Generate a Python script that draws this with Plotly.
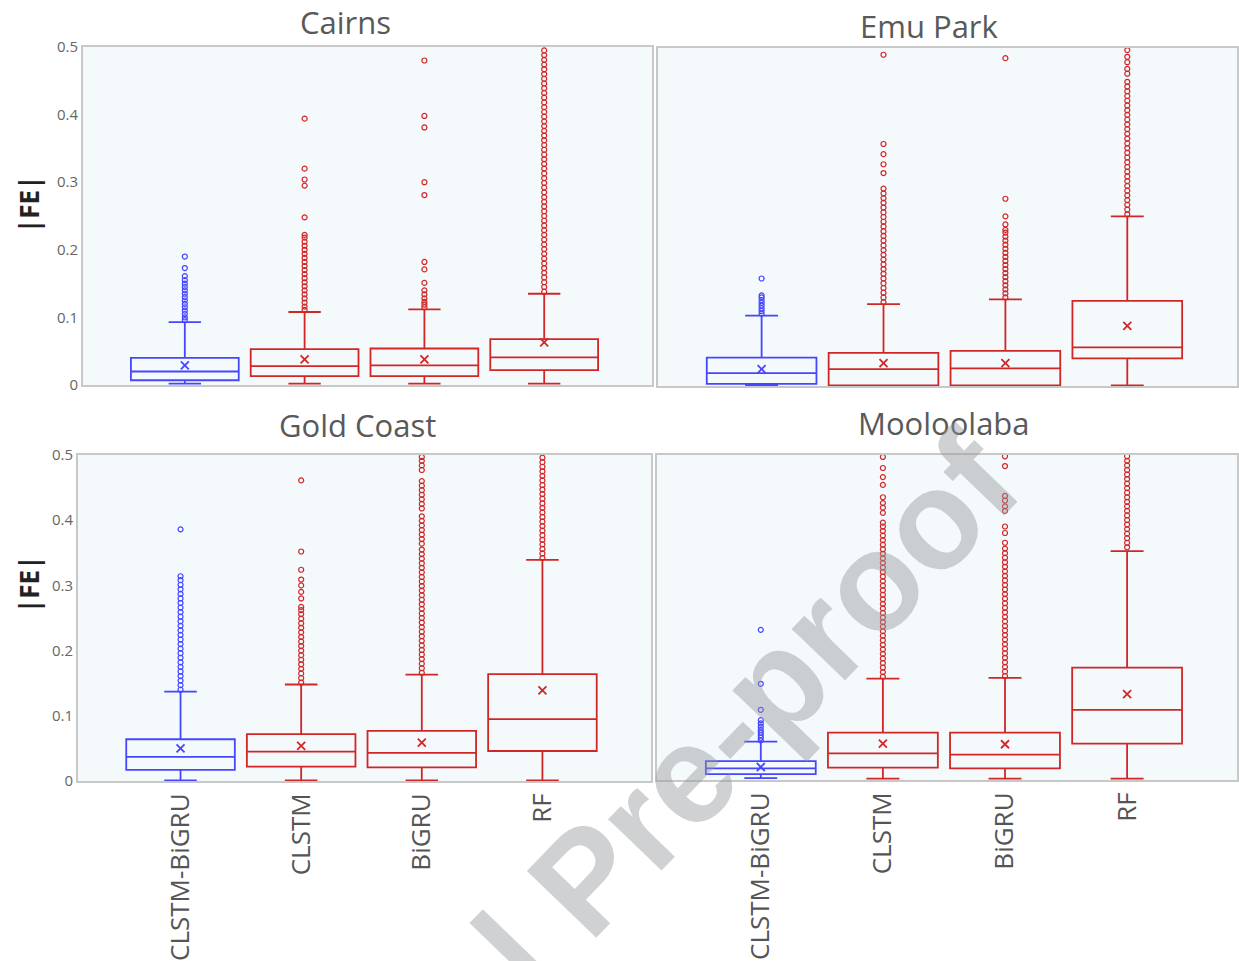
import plotly.graph_objects as go

W, H = 1239, 961

models = ["CLSTM-BiGRU", "CLSTM", "BiGRU", "RF"]
sites = ["Cairns", "Emu Park", "Gold Coast", "Mooloolaba"]
y_ticks = [0, 0.1, 0.2, 0.3, 0.4, 0.5]
y_tick_text = ["0", "0.1", "0.2", "0.3", "0.4", "0.5"]

# box statistics per site, order of models
cairns_q1 = [0.007, 0.013, 0.013, 0.022]
cairns_med = [0.020, 0.028, 0.029, 0.041]
cairns_q3 = [0.040, 0.053, 0.054, 0.068]
cairns_lo = [0.002, 0.002, 0.002, 0.002]
cairns_hi = [0.093, 0.108, 0.112, 0.135]
cairns_mean = [0.029, 0.038, 0.038, 0.063]

emu_q1 = [0.003, 0.001, 0.001, 0.041]
emu_med = [0.019, 0.025, 0.026, 0.057]
emu_q3 = [0.042, 0.049, 0.052, 0.126]
emu_lo = [0.001, 0.001, 0.001, 0.001]
emu_hi = [0.104, 0.121, 0.128, 0.251]
emu_mean = [0.025, 0.034, 0.034, 0.089]

gold_q1 = [0.017, 0.022, 0.021, 0.046]
gold_med = [0.037, 0.045, 0.043, 0.095]
gold_q3 = [0.064, 0.072, 0.077, 0.164]
gold_lo = [0.001, 0.001, 0.001, 0.001]
gold_hi = [0.137, 0.148, 0.163, 0.339]
gold_mean = [0.050, 0.054, 0.059, 0.139]

moo_q1 = [0.009, 0.019, 0.018, 0.056]
moo_med = [0.018, 0.041, 0.039, 0.108]
moo_q3 = [0.029, 0.073, 0.073, 0.173]
moo_lo = [0.003, 0.002, 0.002, 0.002]
moo_hi = [0.059, 0.156, 0.157, 0.352]
moo_mean = [0.020, 0.056, 0.055, 0.132]

# outliers (clipped at 0.5)
cairns_out_cb = [0.096, 0.100, 0.105, 0.110, 0.115, 0.120, 0.125, 0.130, 0.135, 0.140, 0.145, 0.150,
                 0.155, 0.161, 0.173, 0.190]
cairns_out_cl = [0.111, 0.116, 0.122, 0.128, 0.134, 0.140, 0.146, 0.152, 0.158, 0.164, 0.170, 0.176,
                 0.182, 0.188, 0.194, 0.200, 0.206, 0.212, 0.218, 0.222, 0.248, 0.295, 0.304, 0.320, 0.394]
cairns_out_bg = [0.115, 0.119, 0.123, 0.128, 0.134, 0.140, 0.151, 0.171, 0.182, 0.281, 0.300, 0.381,
                 0.398, 0.480]
cairns_out_rf = [0.138, 0.145, 0.152, 0.159, 0.166, 0.173, 0.180, 0.187, 0.194, 0.201, 0.208, 0.215,
                 0.222, 0.229, 0.236, 0.243, 0.250, 0.257, 0.264, 0.271, 0.278, 0.285, 0.292, 0.299,
                 0.306, 0.313, 0.320, 0.327, 0.334, 0.341, 0.348, 0.355, 0.362, 0.369, 0.376, 0.383,
                 0.390, 0.397, 0.404, 0.411, 0.418, 0.425, 0.432, 0.439, 0.446, 0.453, 0.460, 0.467,
                 0.474, 0.481, 0.488, 0.495]

emu_out_cb = [0.107, 0.111, 0.115, 0.119, 0.123, 0.127, 0.131, 0.134, 0.159]
emu_out_cl = [0.124, 0.131, 0.138, 0.145, 0.152, 0.159, 0.166, 0.173, 0.180, 0.187, 0.194, 0.201,
              0.208, 0.215, 0.222, 0.229, 0.236, 0.243, 0.250, 0.257, 0.264, 0.271, 0.278, 0.285,
              0.292, 0.315, 0.328, 0.343, 0.358, 0.490]
emu_out_bg = [0.131, 0.137, 0.143, 0.149, 0.155, 0.161, 0.167, 0.173, 0.179, 0.185, 0.191, 0.197,
              0.203, 0.209, 0.215, 0.221, 0.227, 0.231, 0.239, 0.251, 0.277, 0.485]
emu_out_rf = [0.254, 0.261, 0.268, 0.275, 0.282, 0.289, 0.296, 0.303, 0.310, 0.317, 0.324, 0.331,
              0.338, 0.345, 0.352, 0.359, 0.366, 0.373, 0.380, 0.387, 0.394, 0.401, 0.408, 0.415,
              0.422, 0.429, 0.436, 0.443, 0.450, 0.462, 0.469, 0.479, 0.487, 0.497]

gold_out_cb = [0.140, 0.147, 0.154, 0.161, 0.168, 0.175, 0.182, 0.189, 0.196, 0.203, 0.210, 0.217,
               0.224, 0.231, 0.238, 0.245, 0.252, 0.259, 0.266, 0.273, 0.280, 0.287, 0.294, 0.301,
               0.308, 0.314, 0.386]
gold_out_cl = [0.151, 0.158, 0.165, 0.172, 0.179, 0.186, 0.193, 0.200, 0.207, 0.214, 0.221, 0.228,
               0.235, 0.242, 0.249, 0.256, 0.262, 0.267, 0.280, 0.290, 0.300, 0.309, 0.324, 0.352, 0.461]
gold_out_bg = [0.166, 0.173, 0.180, 0.187, 0.194, 0.201, 0.208, 0.215, 0.222, 0.229, 0.236, 0.243,
               0.250, 0.257, 0.264, 0.271, 0.278, 0.285, 0.292, 0.299, 0.306, 0.313, 0.320, 0.327,
               0.334, 0.341, 0.348, 0.355, 0.364, 0.371, 0.378, 0.385, 0.392, 0.399, 0.406, 0.418,
               0.425, 0.432, 0.439, 0.446, 0.453, 0.460, 0.477, 0.484, 0.491, 0.497]
gold_out_rf = [0.342, 0.349, 0.356, 0.363, 0.370, 0.377, 0.384, 0.391, 0.398, 0.405, 0.412, 0.419,
               0.426, 0.433, 0.440, 0.447, 0.454, 0.461, 0.468, 0.475, 0.482, 0.489, 0.496]

moo_out_cb = [0.061, 0.065, 0.069, 0.073, 0.077, 0.082, 0.087, 0.092, 0.108, 0.148, 0.231]
moo_out_cl = [0.159, 0.166, 0.173, 0.180, 0.187, 0.194, 0.201, 0.208, 0.215, 0.222, 0.229, 0.236,
              0.243, 0.250, 0.257, 0.264, 0.271, 0.278, 0.285, 0.292, 0.299, 0.306, 0.313, 0.320,
              0.327, 0.334, 0.341, 0.348, 0.355, 0.362, 0.369, 0.376, 0.383, 0.390, 0.396, 0.411,
              0.419, 0.426, 0.435, 0.454, 0.466, 0.480, 0.497]
moo_out_bg = [0.160, 0.167, 0.174, 0.181, 0.188, 0.195, 0.202, 0.209, 0.216, 0.223, 0.230, 0.237,
              0.244, 0.251, 0.258, 0.265, 0.272, 0.279, 0.286, 0.293, 0.300, 0.307, 0.314, 0.321,
              0.328, 0.335, 0.342, 0.349, 0.356, 0.365, 0.380, 0.390, 0.414, 0.421, 0.430, 0.437,
              0.483, 0.498]
moo_out_rf = [0.358, 0.365, 0.372, 0.379, 0.386, 0.393, 0.400, 0.407, 0.414, 0.421, 0.428, 0.435,
              0.442, 0.449, 0.456, 0.463, 0.470, 0.477, 0.484, 0.491, 0.498]

panels = [
    dict(site="Cairns", q1=cairns_q1, med=cairns_med, q3=cairns_q3, lo=cairns_lo, hi=cairns_hi,
         mean=cairns_mean, out=[cairns_out_cb, cairns_out_cl, cairns_out_bg, cairns_out_rf]),
    dict(site="Emu Park", q1=emu_q1, med=emu_med, q3=emu_q3, lo=emu_lo, hi=emu_hi,
         mean=emu_mean, out=[emu_out_cb, emu_out_cl, emu_out_bg, emu_out_rf]),
    dict(site="Gold Coast", q1=gold_q1, med=gold_med, q3=gold_q3, lo=gold_lo, hi=gold_hi,
         mean=gold_mean, out=[gold_out_cb, gold_out_cl, gold_out_bg, gold_out_rf]),
    dict(site="Mooloolaba", q1=moo_q1, med=moo_med, q3=moo_q3, lo=moo_lo, hi=moo_hi,
         mean=moo_mean, out=[moo_out_cb, moo_out_cl, moo_out_bg, moo_out_rf]),
]

BLUE = "rgb(70,70,255)"
RED = "rgb(210,38,38)"
colors = [BLUE, RED, RED, RED]

# pixel rectangles of each plot area: (left, right, top, bottom)
rects = [(83, 652, 47, 385), (658, 1237, 48, 386), (78, 651, 455, 781), (657, 1237, 455, 780)]
title_pos = [(346, 22), (930, 26), (357, 425), (944, 423)]

fig = go.Figure()

for k, p in enumerate(panels):
    ax = "" if k == 0 else str(k + 1)
    for i, m in enumerate(models):
        fig.add_trace(go.Box(
            x=[i], q1=[p["q1"][i]], median=[p["med"][i]], q3=[p["q3"][i]],
            lowerfence=[p["lo"][i]], upperfence=[p["hi"][i]],
            width=0.9, whiskerwidth=0.3, boxpoints=False,
            fillcolor="rgba(0,0,0,0)", line=dict(color=colors[i], width=1.8),
            xaxis="x" + ax, yaxis="y" + ax, showlegend=False, name=m,
        ))
        fig.add_trace(go.Scatter(
            x=[i] * len(p["out"][i]), y=p["out"][i], mode="markers",
            marker=dict(symbol="circle-open", size=5, color=colors[i], line=dict(width=1.2)),
            xaxis="x" + ax, yaxis="y" + ax, showlegend=False, cliponaxis=True,
        ))
        fig.add_trace(go.Scatter(
            x=[i], y=[p["mean"][i]], mode="markers",
            marker=dict(symbol="x-thin", size=8, color=colors[i], line=dict(width=1.8, color=colors[i])),
            xaxis="x" + ax, yaxis="y" + ax, showlegend=False,
        ))

layout = dict(
    width=W, height=H, margin=dict(l=0, r=0, t=0, b=0, autoexpand=False),
    paper_bgcolor="white", plot_bgcolor="rgb(244,249,252)",
    font=dict(family="Open Sans", color="#555"),
    showlegend=False,
)

annotations = []
for k, (l, r, t, b) in enumerate(rects):
    ax = "" if k == 0 else str(k + 1)
    bottom = k >= 2
    left = k % 2 == 0
    layout["xaxis" + ax] = dict(
        domain=[l / W, r / W], anchor="y" + ax, range=[-0.85, 3.9], automargin=False,
        tickvals=[0, 1, 2, 3], ticktext=models, tickangle=-90,
        showticklabels=bottom, ticks="", showgrid=False, zeroline=False,
        showline=True, mirror=True, linecolor="#c8c8c8", linewidth=2,
        tickfont=dict(size=26, color="#555", family="Open Sans"),
    )
    layout["yaxis" + ax] = dict(
        domain=[1 - b / H, 1 - t / H], anchor="x" + ax, range=[0, 0.5], automargin=False,
        tickvals=y_ticks, ticktext=y_tick_text, showticklabels=left,
        ticks="", showgrid=False, zeroline=False,
        showline=True, mirror=True, linecolor="#c8c8c8", linewidth=2,
        tickfont=dict(size=15, color="#666", family="Open Sans"),
    )
    tx, ty = title_pos[k]
    annotations.append(dict(
        text=panels[k]["site"], x=tx / W, y=1 - ty / H, xref="paper", yref="paper",
        showarrow=False, xanchor="center", yanchor="middle",
        font=dict(size=31, color="#595959", family="Open Sans"),
    ))

for yc in (205, 585):
    annotations.append(dict(
        text="<b>|FE|</b>", x=29 / W, y=1 - yc / H, xref="paper", yref="paper",
        showarrow=False, textangle=-90, xanchor="center", yanchor="middle",
        font=dict(size=26, color="#222", family="Open Sans"),
    ))

# watermark
annotations.append(dict(
    text="<b>Journal Pre-proof</b>", x=584 / W, y=1 - 880 / H, xref="paper", yref="paper",
    showarrow=False, textangle=-46, xanchor="center", yanchor="middle",
    font=dict(size=140, color="rgba(150,153,156,0.45)", family="Liberation Sans"),
))

layout["annotations"] = annotations
fig.update_layout(**layout)
fig.write_html("out.html")
